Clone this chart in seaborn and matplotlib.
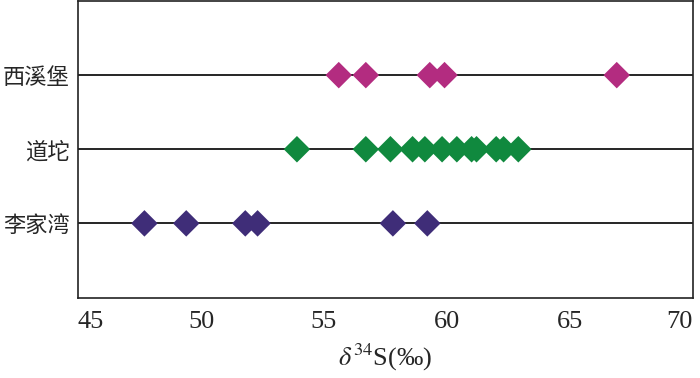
import matplotlib
matplotlib.use('Agg')
import matplotlib.pyplot as plt
import seaborn as sns
import pandas as pd

# delta34S values (per mil)
sites = ['西溪堡', '道坨', '李家湾']
xixibao = [55.6, 56.7, 59.3, 59.9, 66.9]
daotuo = [53.9, 56.7, 57.7, 58.6, 59.1, 59.8, 60.4, 61.0, 61.2, 62.0, 62.3, 62.9]
lijiawan = [47.7, 49.4, 51.8, 52.3, 57.8, 59.2]
colors = ['#B32C80', '#10893E', '#3F2D78']
x_ticks = [45, 50, 55, 60, 65, 70]

df = pd.DataFrame({
    'site': [sites[0]] * len(xixibao) + [sites[1]] * len(daotuo) + [sites[2]] * len(lijiawan),
    'd34S': xixibao + daotuo + lijiawan,
})

sns.set_style('white')
plt.rcParams['font.family'] = ['Liberation Serif', 'Noto Sans CJK SC']
plt.rcParams['mathtext.fontset'] = 'stix'

fig = plt.figure(figsize=(7, 3.78), dpi=100)
ax = fig.add_axes([78 / 700, 1 - 297.5 / 378, (693 - 78) / 700, (297.5 - 1) / 378])

# horizontal guide line for each site
for pos in range(len(sites)):
    ax.axhline(pos, color='black', lw=1.2, zorder=1)

sns.stripplot(data=df, x='d34S', y='site', hue='site', order=sites, palette=colors,
              jitter=False, marker='D', size=13.5, linewidth=0, legend=False, ax=ax, zorder=3)

ax.set_xlim(45, 70)
ax.set_ylim(3, -1)
ax.set_xticks(x_ticks)
ax.set_xticklabels([str(t) for t in x_ticks], fontsize=19)
labels = ax.get_xticklabels()
labels[0].set_ha('left')
labels[-1].set_ha('right')
ax.set_yticks(range(len(sites)))
ax.set_yticklabels(sites, fontsize=16, family=['Noto Sans CJK SC'])
ax.tick_params(axis='x', direction='in', length=8, width=1, pad=10, color='black')
ax.tick_params(axis='y', length=0, pad=6)
ax.set_ylabel('')
ax.set_xlabel(r'$\delta^{34}$S(‰)', fontsize=19, labelpad=6)
for side in ax.spines.values():
    side.set_color('#222222')
    side.set_linewidth(1.2)

fig.savefig('out.png', dpi=100)
